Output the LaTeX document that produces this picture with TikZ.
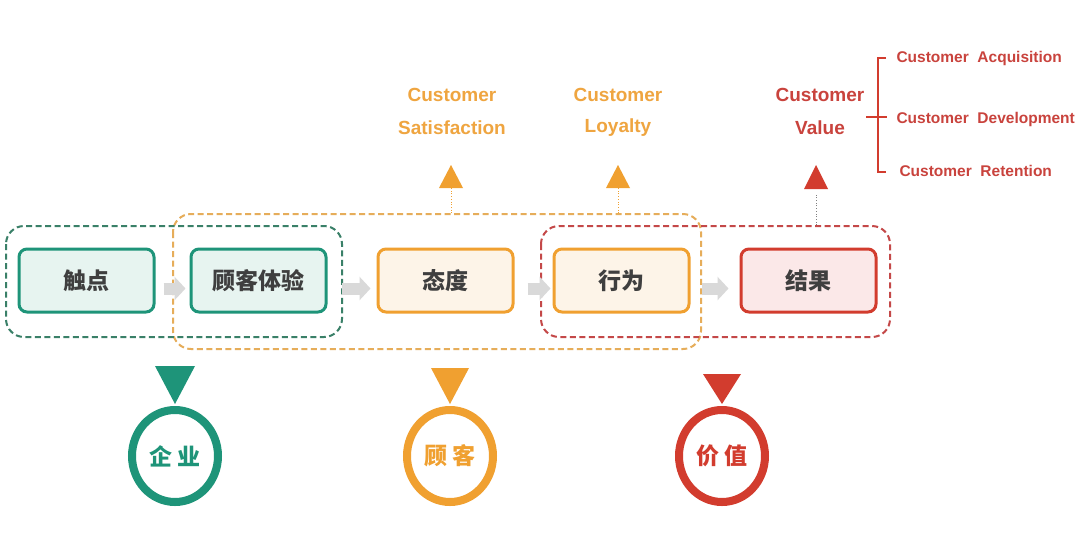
\documentclass[tikz,border=0pt]{standalone}
\usepackage{fontspec}
\setmainfont{Liberation Sans}
\newfontfamily\cjk{Noto Sans CJK SC}
\usetikzlibrary{arrows.meta,calc,shapes.geometric}
\definecolor{cgreen}{HTML}{1E9479}
\definecolor{cgreendash}{HTML}{3A8068}
\definecolor{corange}{HTML}{F0A030}
\definecolor{corangedash}{HTML}{E6AD5A}
\definecolor{corangetxt}{HTML}{EFA540}
\definecolor{cred}{HTML}{D23C2E}
\definecolor{credtxt}{HTML}{C9433D}
\definecolor{creddash}{HTML}{C44848}
\definecolor{fgreen}{HTML}{E7F4F0}
\definecolor{forange}{HTML}{FDF4E8}
\definecolor{fred}{HTML}{FBE8E8}
\definecolor{txtgray}{HTML}{3F3F3F}
\definecolor{arrowgray}{HTML}{D9D9D9}
\tikzset{
  stagebox/.style={rounded corners=8pt, line width=3pt, minimum width=135pt, minimum height=63pt,
    inner sep=0pt, text=txtgray, font=\cjk\bfseries\fontsize{23}{27}\selectfont},
  greenbox/.style={stagebox, draw=cgreen, fill=fgreen},
  orangebox/.style={stagebox, draw=corange, fill=forange},
  redbox/.style={stagebox, draw=cred, fill=fred},
  flowarrow/.style={draw=arrowgray, line width=12pt, -{Triangle[length=11pt,width=23pt]}},
  groupbox/.style={line width=2pt, dash pattern=on 6pt off 3.5pt, rounded corners=18pt},
  toplabel/.style={font=\bfseries\fontsize{19}{23}\selectfont},
  sublabel/.style={font=\bfseries\fontsize{15.5}{18}\selectfont, text=credtxt, anchor=west},
  ring/.style={ellipse, draw, line width=8pt, minimum width=86pt, minimum height=92pt, inner sep=0pt,
    font=\cjk\bfseries\fontsize{23}{26}\selectfont},
  guide/.style={line width=0.7pt, dotted}
}
\begin{document}
\begin{tikzpicture}[x=1pt,y=-1pt]
\useasboundingbox (0,0) rectangle (1080,550);
\fill[white] (0,0) rectangle (1080,550);

% group boxes
\draw[groupbox, draw=corangedash] (173,214) rectangle (701,349);
\draw[groupbox, draw=cgreendash] (6,226) rectangle (342,337);
\draw[groupbox, draw=creddash] (541,226) rectangle (890,337);

% stage boxes
\node[greenbox]  (b1) at (86.5,280.5)  {触点};
\node[greenbox]  (b2) at (258.5,280.5) {顾客体验};
\node[orangebox] (b3) at (445.5,280.5) {态度};
\node[orangebox] (b4) at (621.5,280.5) {行为};
\node[redbox]    (b5) at (808.5,280.5) {结果};

% flow arrows
\draw[flowarrow] ($(b1.east)+(8,8)$) -- ($(b2.west)+(-4,8)$);
\draw[flowarrow] ($(b2.east)+(14,8)$) -- ($(b3.west)+(-6,8)$);
\draw[flowarrow] ($(b3.east)+(13,8)$) -- ($(b4.west)+(-2,8)$);
\draw[flowarrow] ($(b4.east)+(11,8)$) -- ($(b5.west)+(-11,8)$);

% top labels
\node[toplabel, text=corangetxt] (s1) at (452,95) {Customer};
\node[toplabel, text=corangetxt] (s2) at (452,128) {Satisfaction};
\node[toplabel, text=corangetxt] (l1) at (618,95) {Customer};
\node[toplabel, text=corangetxt] (l2) at (618,128) {Loyalty};
\node[toplabel, text=credtxt] (v1) at (820,95) {Customer};
\node[toplabel, text=credtxt] (v2) at (820,128) {Value};

% upward triangles with guide lines
\coordinate (t1) at (451,188);
\coordinate (t2) at (618,188);
\coordinate (t3) at (816,189);
\fill[corange] (t1) -- ++(-12,0) -- ++(12,-23) -- ++(12,23) -- cycle;
\fill[corange] (t2) -- ++(-12,0) -- ++(12,-23) -- ++(12,23) -- cycle;
\fill[cred] (t3) -- ++(-12,0) -- ++(12,-24) -- ++(12,24) -- cycle;
\coordinate (g1) at (451,213);
\coordinate (g2) at (618,213);
\coordinate (g3) at (816,225);
\draw[guide, draw=corange] (g1) -- (t1);
\draw[guide, draw=corange] (g2) -- (t2);
\draw[guide, draw=gray] (g3) -- ($(t3)+(0,4)$);

% bracket and sub labels
\node[sublabel] (a1) at (893,58)  {Customer\ \ Acquisition};
\node[sublabel] (a2) at (893,119) {Customer\ \ Development};
\node[sublabel] (a3) at (896,171) {Customer\ \ Retention};
\coordinate (bt) at (878,58);
\coordinate (bb) at (878,172);
\draw[cred, line width=1.3pt] ($(bt)+(8,0)$) -- (bt) -- (bb) -- ($(bb)+(8,0)$);
\draw[cred, line width=1.3pt] (866,117) -- (887,117);

% bottom rings
\node[ring, draw=cgreen, text=cgreen]   (r1) at (175,456) {企\hspace{5pt}业};
\node[ring, draw=corange, text=corange] (r2) at (450,456) {顾\hspace{5pt}客};
\node[ring, draw=cred, text=cred]       (r3) at (722,456) {价\hspace{5pt}值};
\fill[cgreen]  ($(r1.north)+(0,-2)$) -- ++(-20,-38) -- ++(40,0) -- cycle;
\fill[corange] ($(r2.north)+(0,-2)$) -- ++(-19,-36) -- ++(38,0) -- cycle;
\fill[cred]    ($(r3.north)+(0,-2)$) -- ++(-19,-30) -- ++(38,0) -- cycle;
\end{tikzpicture}
\end{document}
